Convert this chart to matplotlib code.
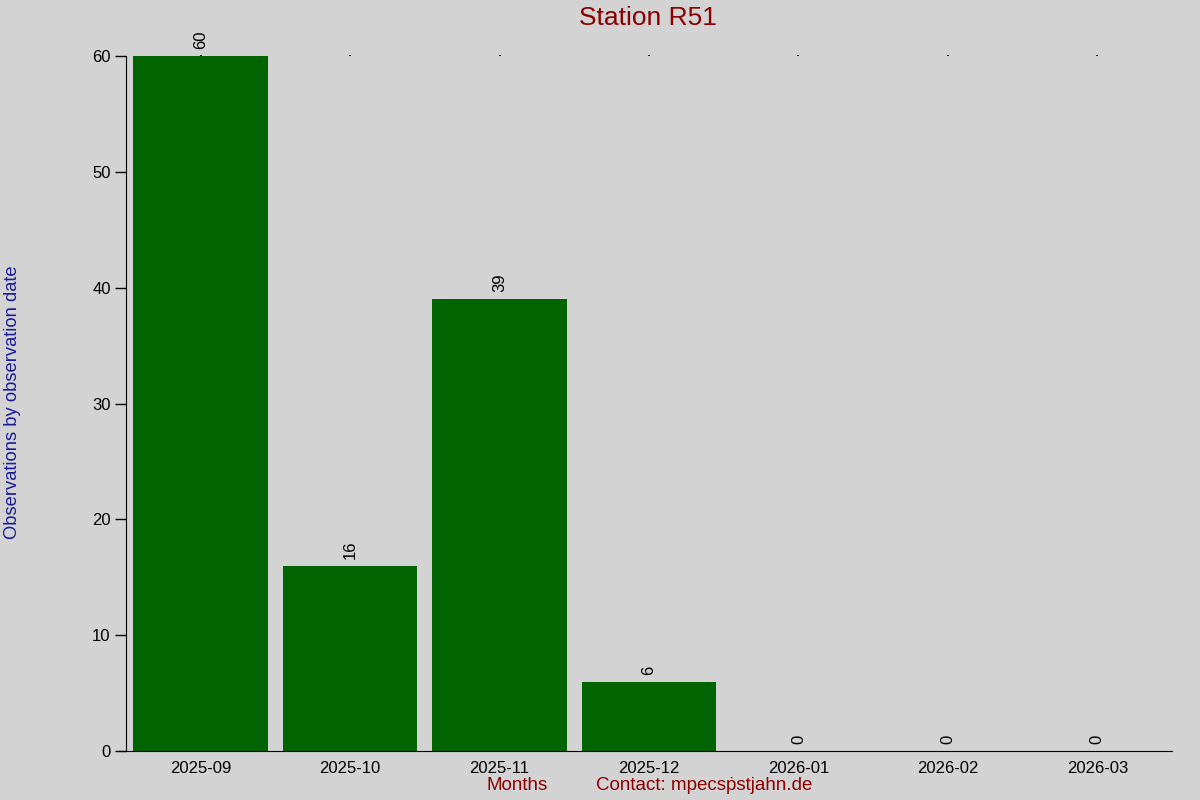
import matplotlib
matplotlib.use('Agg')
from matplotlib import pyplot as plt
import numpy as np

months = ['2025-09', '2025-10', '2025-11', '2025-12', '2026-01', '2026-02', '2026-03']
counts = [60, 16, 39, 6, 0, 0, 0]

plt.rcParams['font.family'] = ['Liberation Sans', 'DejaVu Sans']

bg = '#d3d3d3'
fig = plt.figure(figsize=(12, 8), dpi=100, facecolor=bg)
ax = fig.add_axes([0.105, 0.06125, 0.8717, 0.86875], facecolor=bg)
ax.set_axisbelow(True)  # kleine ticks oben hinter den balken

x = np.arange(len(months))
ax.bar(x, counts, width=0.9, color='#006400')

# zahlen ueber den balken
for xi, c in zip(x, counts):
    ax.text(xi, c + 0.6, str(c), rotation=90, ha='center', va='bottom', fontsize=12)

ax.set_xlim(-0.5, len(months) - 0.5)
ax.set_ylim(0, 60)
ax.set_yticks(range(0, 61, 10))
ax.set_xticks(x)
ax.set_xticklabels(months)

for s in ['top', 'right']:
    ax.spines[s].set_visible(False)
ax.spines['bottom'].set_bounds(-0.55, len(months) - 0.5)
ax.spines['bottom'].set_zorder(3)
ax.spines['left'].set_zorder(3)
ax.tick_params(axis='y', direction='out', length=8, width=1, labelsize=12, pad=3)
ax.tick_params(axis='x', bottom=False, top=True, length=1, width=1.2, color='black',
               labelsize=12, pad=6)

fig.text(0.54, 0.992, 'Station R51', color='#8b0000', fontsize=19, ha='center', va='top')
fig.text(0.431, 0.0175, 'Months', color='#8b0000', fontsize=13.5, ha='center', va='center')
fig.text(0.587, 0.0175, 'Contact: mpecs\u1e57stjahn.de', color='#8b0000', fontsize=13.5,
         ha='center', va='center')
fig.text(0.0105, 0.497, 'Observations by observation date', color='#1a1a9c', fontsize=13.2,
         rotation=90, ha='center', va='center')

fig.savefig('out.png', dpi=100, facecolor=bg)
